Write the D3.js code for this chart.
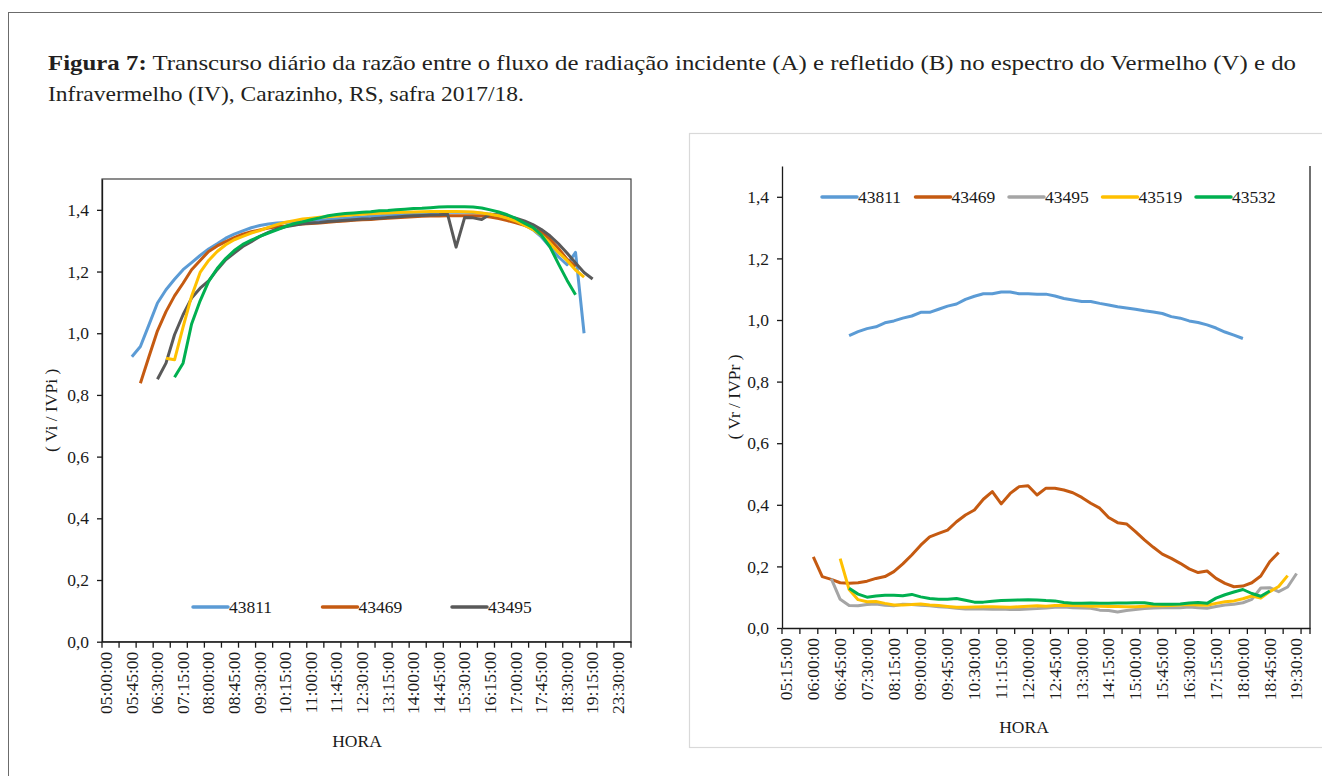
<!DOCTYPE html>
<html>
<head>
<meta charset="utf-8">
<script src="https://cdn.jsdelivr.net/npm/d3@7"></script>
<style>
  body { margin: 0; background: #fff; }
  text { font-family: "Liberation Serif", "Times New Roman", serif; fill: #1a1a1a; }
  .tick text { font-size: 17.5px; }
</style>
</head>
<body>
<div class="chart"></div>
<script>
// Step 0: data
//= ================================
var leftHours = ["05:00:00","05:15:00","05:30:00","05:45:00","06:00:00","06:15:00","06:30:00","06:45:00",
  "07:00:00","07:15:00","07:30:00","07:45:00","08:00:00","08:15:00","08:30:00","08:45:00",
  "09:00:00","09:15:00","09:30:00","09:45:00","10:00:00","10:15:00","10:30:00","10:45:00",
  "11:00:00","11:15:00","11:30:00","11:45:00","12:00:00","12:15:00","12:30:00","12:45:00",
  "13:00:00","13:15:00","13:30:00","13:45:00","14:00:00","14:15:00","14:30:00","14:45:00",
  "15:00:00","15:15:00","15:30:00","15:45:00","16:00:00","16:15:00","16:30:00","16:45:00",
  "17:00:00","17:15:00","17:30:00","17:45:00","18:00:00","18:15:00","18:30:00","18:45:00",
  "19:00:00","19:15:00","19:30:00","19:45:00","23:30:00","23:45:00"];

var rightHours = ["05:15:00","05:30:00","05:45:00","06:00:00","06:15:00","06:30:00","06:45:00",
  "07:00:00","07:15:00","07:30:00","07:45:00","08:00:00","08:15:00","08:30:00","08:45:00",
  "09:00:00","09:15:00","09:30:00","09:45:00","10:00:00","10:15:00","10:30:00","10:45:00",
  "11:00:00","11:15:00","11:30:00","11:45:00","12:00:00","12:15:00","12:30:00","12:45:00",
  "13:00:00","13:15:00","13:30:00","13:45:00","14:00:00","14:15:00","14:30:00","14:45:00",
  "15:00:00","15:15:00","15:30:00","15:45:00","16:00:00","16:15:00","16:30:00","16:45:00",
  "17:00:00","17:15:00","17:30:00","17:45:00","18:00:00","18:15:00","18:30:00","18:45:00",
  "19:00:00","19:15:00","19:30:00","19:45:00"];

var seriesNames = ["43811", "43469", "43495", "43519", "43532"];
var yTicks = [0, 0.2, 0.4, 0.6, 0.8, 1.0, 1.2, 1.4];

// left panel: Vi / IVPi
var leftA = [null,null,null,
  0.924,0.957,1.027,1.098,1.141,1.175,1.206,1.229,1.252,1.273,
  1.290,1.308,1.321,1.332,1.342,1.349,1.354,1.357,1.359,1.361,
  1.363,1.365,1.367,1.369,1.371,1.373,1.375,1.377,1.379,1.381,
  1.383,1.385,1.386,1.388,1.389,1.390,1.391,1.392,1.392,1.392,
  1.391,1.389,1.386,1.381,1.374,1.365,1.352,1.336,1.312,1.280,
  1.248,1.222,1.262,1.000,
  null,null,null,null,null];
var leftB = [null,null,null,null,
  0.838,0.924,1.008,1.070,1.121,1.162,1.206,1.236,1.265,1.283,
  1.297,1.310,1.321,1.329,1.335,1.341,1.345,1.348,1.352,1.354,
  1.356,1.357,1.360,1.362,1.364,1.366,1.368,1.369,1.371,1.373,
  1.374,1.376,1.378,1.379,1.380,1.380,1.381,1.381,1.381,1.381,
  1.380,1.377,1.372,1.365,1.358,1.350,1.340,1.328,1.305,1.275,
  1.240,1.216,
  null,null,null,null,null,null];
var leftC = [null,null,null,null,null,null,
  0.851,0.903,0.995,1.060,1.114,1.146,1.170,1.206,1.238,1.260,
  1.281,1.297,1.314,1.327,1.338,1.345,1.350,1.355,1.357,1.359,
  1.362,1.364,1.366,1.368,1.370,1.371,1.373,1.375,1.377,1.379,
  1.381,1.382,1.383,1.384,1.386,1.279,1.375,1.374,1.369,1.386,
  1.384,1.380,1.373,1.364,1.352,1.336,1.316,1.290,1.260,1.228,
  1.197,1.176,
  null,null,null,null];
var leftD = [null,null,null,null,null,null,null,
  0.919,0.914,1.020,1.120,1.197,1.236,1.265,1.287,1.303,1.314,
  1.325,1.333,1.343,1.352,1.360,1.365,1.370,1.373,1.376,1.378,
  1.380,1.382,1.384,1.386,1.387,1.389,1.390,1.391,1.392,1.393,
  1.394,1.395,1.395,1.395,1.395,1.394,1.393,1.390,1.386,1.381,
  1.373,1.364,1.350,1.336,1.318,1.292,1.262,1.236,1.205,1.182,
  null,null,null,null,null];
var leftE = [null,null,null,null,null,null,null,null,
  0.857,0.903,1.030,1.105,1.168,1.210,1.242,1.268,1.288,1.302,
  1.314,1.325,1.335,1.346,1.355,1.361,1.368,1.374,1.381,1.385,
  1.388,1.390,1.392,1.394,1.397,1.398,1.400,1.402,1.404,1.405,
  1.407,1.409,1.410,1.410,1.410,1.409,1.406,1.400,1.393,1.384,
  1.372,1.357,1.343,1.318,1.280,1.225,1.172,1.125,
  null,null,null,null,null,null];

// right panel: Vr / IVPr
var rightA = [null,null,null,null,null,null,null,
  0.949,0.962,0.972,0.978,0.991,0.997,1.006,1.013,1.025,1.025,
  1.035,1.045,1.052,1.067,1.077,1.085,1.085,1.091,1.091,1.085,
  1.085,1.084,1.084,1.078,1.070,1.065,1.060,1.060,1.054,1.049,
  1.043,1.039,1.035,1.030,1.026,1.021,1.011,1.006,0.997,0.992,
  0.984,0.974,0.961,0.951,0.940,
  null,null,null,null,null,null,null];
var rightB = [null,null,null,
  0.231,0.167,0.158,0.147,0.145,0.147,0.152,0.161,0.167,0.183,
  0.208,0.237,0.269,0.296,0.307,0.318,0.345,0.367,0.383,0.418,
  0.443,0.403,0.437,0.459,0.462,0.432,0.454,0.454,0.448,0.439,
  0.424,0.405,0.389,0.359,0.342,0.338,0.313,0.286,0.262,0.240,
  0.226,0.210,0.192,0.180,0.185,0.161,0.145,0.134,0.136,0.147,
  0.169,0.215,0.245,
  null,null,null];
var rightC = [null,null,null,null,null,
  0.160,0.093,0.073,0.072,0.076,0.078,0.074,0.072,0.077,0.076,
  0.074,0.072,0.069,0.067,0.064,0.062,0.062,0.062,0.061,0.062,
  0.060,0.060,0.062,0.063,0.065,0.067,0.068,0.066,0.065,0.064,
  0.058,0.057,0.052,0.057,0.060,0.063,0.065,0.066,0.066,0.066,
  0.068,0.066,0.064,0.070,0.075,0.077,0.082,0.093,0.130,0.131,
  0.118,0.133,0.177,
  null];
var rightD = [null,null,null,null,null,null,
  0.225,0.125,0.092,0.085,0.086,0.080,0.075,0.075,0.076,0.078,
  0.075,0.073,0.070,0.067,0.067,0.068,0.069,0.069,0.068,0.067,
  0.069,0.071,0.072,0.071,0.073,0.074,0.073,0.072,0.071,0.071,
  0.070,0.070,0.069,0.069,0.071,0.072,0.072,0.073,0.075,0.076,
  0.075,0.074,0.080,0.085,0.088,0.095,0.104,0.097,0.118,0.135,
  0.170,
  null,null];
var rightE = [null,null,null,null,null,null,null,
  0.129,0.110,0.100,0.104,0.106,0.106,0.105,0.109,0.101,0.096,
  0.093,0.093,0.096,0.090,0.084,0.084,0.087,0.089,0.090,0.091,
  0.092,0.091,0.089,0.088,0.083,0.080,0.080,0.081,0.080,0.080,
  0.081,0.081,0.082,0.082,0.078,0.077,0.077,0.078,0.081,0.083,
  0.080,0.097,0.108,0.117,0.125,0.112,0.103,0.120,
  null,null,null,null];

// Step 1: Set up the page
//= ================================
var svgWidth = 1322;
var svgHeight = 776;

var svg = d3
  .select(".chart")
  .append("svg")
  .attr("width", svgWidth)
  .attr("height", svgHeight);

// outer frame of the page
svg.append("rect")
  .attr("x", 8.5).attr("y", 12.5)
  .attr("width", 1340).attr("height", 800)
  .attr("fill", "none")
  .attr("stroke", "#6b6b6b")
  .attr("stroke-width", 1);

// light box round the right chart
svg.append("rect")
  .attr("x", 689.5).attr("y", 133.5)
  .attr("width", 660).attr("height", 614)
  .attr("fill", "none")
  .attr("stroke", "#d9d9d9")
  .attr("stroke-width", 1.2);

// caption (the original face is wider than Times, so stretch to its width)
var caption = svg.append("text")
  .attr("x", 48).attr("y", 70)
  .attr("textLength", 1248)
  .attr("lengthAdjust", "spacingAndGlyphs")
  .style("font-size", "21px")
  .style("fill", "#231f20");
caption.append("tspan").style("font-weight", "bold").text("Figura 7:");
caption.append("tspan").text(" Transcurso diário da razão entre o fluxo de radiação incidente (A) e refletido (B) no espectro do Vermelho (V) e do");

svg.append("text")
  .attr("x", 48).attr("y", 101)
  .attr("textLength", 476)
  .attr("lengthAdjust", "spacingAndGlyphs")
  .style("font-size", "21px")
  .style("fill", "#231f20")
  .text("Infravermelho (IV), Carazinho, RS, safra 2017/18.");

var colors = ["#5b9bd5", "#c55a11", "#595959", "#ffc000", "#00b050"];
var rightColors = ["#5b9bd5", "#c55a11", "#a5a5a5", "#ffc000", "#00b050"];

function commaFormat(d) {
  return d3.format(".1f")(d).replace(".", ",");
}

// Step 2: one panel
//= ================================
function drawPanel(p) {
  var x = d3.scaleBand().domain(p.hours).range([p.left, p.right]).padding(0);
  var y = d3.scaleLinear().domain([0, 1.5]).range([p.bottom, p.top]);
  var g = svg.append("g");

  // plot border
  if (p.box) {
    g.append("rect")
      .attr("x", p.left).attr("y", p.top)
      .attr("width", p.right - p.left).attr("height", p.bottom - p.top)
      .attr("fill", "none").attr("stroke", "#404040").attr("stroke-width", 1.2);
  } else {
    g.append("line")
      .attr("x1", p.right).attr("x2", p.right)
      .attr("y1", p.top).attr("y2", p.bottom)
      .attr("stroke", "#404040").attr("stroke-width", 1.5);
  }

  // y axis
  var leftAxis = d3.axisLeft(y)
    .tickValues(yTicks)
    .tickFormat(commaFormat)
    .tickSize(5)
    .tickSizeOuter(0)
    .tickPadding(8);
  var yAxis = g.append("g")
    .attr("transform", "translate(" + p.left + ",0)")
    .call(leftAxis);
  yAxis.select(".domain").attr("stroke", "#1a1a1a").attr("stroke-width", 1.3);
  yAxis.selectAll(".tick line").attr("stroke", "#1a1a1a").attr("stroke-width", 1.3);
  yAxis.selectAll("text").attr("fill", "#1a1a1a");

  // x axis: labels every 3 categories, tick marks every 2
  var bottomAxis = d3.axisBottom(x)
    .tickValues(p.hours.filter(function(d, i) { return i % 3 === 0; }))
    .tickSize(0)
    .tickSizeOuter(0);
  var xAxis = g.append("g")
    .attr("transform", "translate(0," + p.bottom + ")")
    .call(bottomAxis);
  xAxis.select(".domain").attr("stroke", "#1a1a1a").attr("stroke-width", 1.3);
  xAxis.selectAll("text")
    .attr("fill", "#1a1a1a")
    .attr("transform", "rotate(-90)")
    .attr("text-anchor", "end")
    .attr("x", -10)
    .attr("y", 0)
    .attr("dy", "0.33em");

  var marks = p.hours.filter(function(d, i) { return i % 2 === 0; }).map(function(d) { return x(d); });
  marks.push(p.right);
  g.selectAll(".xmark")
    .data(marks)
    .enter()
    .append("line")
    .attr("class", "xmark")
    .attr("x1", function(d) { return d; })
    .attr("x2", function(d) { return d; })
    .attr("y1", p.bottom)
    .attr("y2", p.bottom + 6)
    .attr("stroke", "#1a1a1a")
    .attr("stroke-width", 1.3);

  // lines
  var line = d3.line()
    .defined(function(d) { return d != null; })
    .x(function(d, i) { return x(p.hours[i]) + x.bandwidth() / 2; })
    .y(function(d) { return y(d); });

  g.selectAll(".series")
    .data(p.series)
    .enter()
    .append("path")
    .attr("class", "series")
    .attr("d", line)
    .attr("fill", "none")
    .attr("stroke", function(d, i) { return p.colors[i]; })
    .attr("stroke-width", 3)
    .attr("stroke-linejoin", "round");

  // legend
  var legend = g.selectAll(".legend")
    .data(p.legendNames)
    .enter()
    .append("g")
    .attr("class", "legend")
    .attr("transform", function(d, i) {
      return "translate(" + (p.legendX + i * p.legendStep) + "," + p.legendY + ")";
    });
  legend.append("line")
    .attr("x1", 0).attr("x2", 35)
    .attr("stroke", function(d, i) { return p.colors[i]; })
    .attr("stroke-width", 3.5)
    .attr("stroke-linecap", "round");
  legend.append("text")
    .attr("x", 36)
    .attr("dy", "0.35em")
    .style("font-size", "17.5px")
    .text(function(d) { return d; });

  // axis titles
  g.append("text")
    .attr("transform", "translate(" + p.yTitleX + "," + ((p.top + p.bottom) / 2) + ") rotate(-90)")
    .attr("text-anchor", "middle")
    .attr("dy", "0.35em")
    .style("font-size", "17.5px")
    .text(p.yTitle);

  g.append("text")
    .attr("x", p.xTitleX)
    .attr("y", p.xTitleY)
    .attr("text-anchor", "middle")
    .attr("dy", "0.35em")
    .style("font-size", "17.5px")
    .text("HORA");
}

drawPanel({
  hours: leftHours,
  series: [leftA, leftB, leftC, leftD, leftE],
  colors: colors,
  legendNames: seriesNames.slice(0, 3),
  left: 102, right: 631, top: 179, bottom: 641.7,
  box: true,
  legendX: 193, legendStep: 129.5, legendY: 607,
  yTitle: "( Vi / IVPi )", yTitleX: 51,
  xTitleX: 357, xTitleY: 741
});

drawPanel({
  hours: rightHours,
  series: [rightA, rightB, rightC, rightD, rightE],
  colors: rightColors,
  legendNames: seriesNames,
  left: 782, right: 1310, top: 166, bottom: 628,
  box: false,
  legendX: 822, legendStep: 93.5, legendY: 197,
  yTitle: "( Vr / IVPr )", yTitleX: 734,
  xTitleX: 1024, xTitleY: 727
});
</script>
</body>
</html>
